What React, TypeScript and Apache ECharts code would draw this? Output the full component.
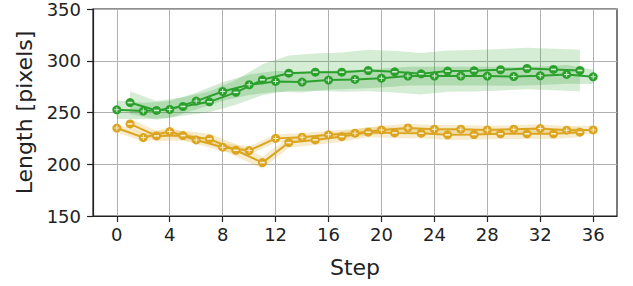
import React, { useEffect, useRef } from "react";
import * as echarts from "echarts";

const evenSteps = [0, 2, 4, 6, 8, 10, 12, 14, 16, 18, 20, 22, 24, 26, 28, 30, 32, 34, 36];
const oddSteps = [1, 3, 5, 7, 9, 11, 13, 15, 17, 19, 21, 23, 25, 27, 29, 31, 33, 35];

const greenEven = [252.6, 251.4, 253, 261, 270.3, 276.8, 280, 279.4, 281.3, 282, 283.2, 285.2, 285.2, 285.2, 285.2, 284.8, 285.5, 286.8, 284.5];
const greenEvenSpread = [9, 8, 8, 8, 9, 10, 10, 10, 9, 9, 9, 9, 9, 9, 9, 9, 9, 9, 7];
const greenOdd = [259.6, 252, 255.8, 260.3, 269.5, 281.6, 288, 289, 289, 290.6, 289.3, 287.4, 290, 290.3, 291.3, 292.5, 291.6, 290.6];
const greenOddSpread = [11, 9, 9, 10, 12, 15, 17, 18, 19, 20, 20, 20, 20, 20, 20, 20, 20, 20];

const orangeEven = [235, 225.8, 231.6, 223.5, 216.5, 213.2, 225, 226.1, 228.4, 230, 233.2, 235.1, 233.9, 233.9, 233.2, 233.9, 234.5, 232.9, 233.2];
const orangeEvenSpread = [4, 4, 4, 4, 4, 4, 4, 4, 4, 4, 4, 4, 4, 4, 4, 4, 4, 4, 4];
const orangeOdd = [239, 227.4, 227.7, 224.5, 213.5, 201.6, 220.9, 223.5, 226.7, 231, 230.3, 230, 228.4, 228.7, 229.4, 229.4, 229.4, 231];
const orangeOddSpread = [5, 5, 5, 5, 6, 6, 5, 5, 5, 5, 5, 5, 5, 5, 5, 5, 5, 5];

const xTicks = [0, 4, 8, 12, 16, 20, 24, 28, 32, 36];

const GREEN = "#2ca02c";
const ORANGE = "#dba520";
const FONT = "DejaVu Sans";
const PLUS = "path://M4,0H6V4H10V6H6V10H4V6H0V4H4Z";
const MINUS = "path://M0,0H10V2H0Z";

function bandSeries(xs: number[], center: number[], spread: number[], fill: string) {
  const data = xs.map((x, i) => [x, center[i] - spread[i], center[i] + spread[i]]);
  return {
    type: "custom",
    data,
    silent: true,
    z: 1,
    encode: { x: 0, y: [1, 2] },
    renderItem: (params: any, api: any) => {
      if (params.dataIndex !== 0) return null;
      const upper = data.map((d) => api.coord([d[0], d[2]]));
      const lower = data.map((d) => api.coord([d[0], d[1]])).reverse();
      return {
        type: "polygon",
        shape: { points: upper.concat(lower) },
        style: { fill },
      };
    },
  };
}

function lineSeries(xs: number[], vals: number[], color: string) {
  return {
    type: "line",
    data: xs.map((x, i) => [x, vals[i]]),
    symbol: "circle",
    symbolSize: 9,
    showAllSymbol: true,
    lineStyle: { color, width: 2 },
    itemStyle: { color, borderWidth: 0 },
    z: 3,
  };
}

function glyphSeries(xs: number[], vals: number[], symbol: string, size: number[]) {
  return {
    type: "scatter",
    data: xs.map((x, i) => [x, vals[i]]),
    symbol,
    symbolSize: size,
    itemStyle: { color: "#ffffff" },
    silent: true,
    z: 4,
  };
}

export default function App() {
  const ref = useRef<HTMLDivElement>(null);
  useEffect(() => {
    const chart = echarts.init(ref.current!, null, { renderer: "svg" });
    chart.setOption({
      animation: false,
      grid: {
        left: 93,
        right: 16,
        top: 9,
        bottom: 70,
        show: true,
        borderColor: "#222",
        borderWidth: 1.2,
      },
      xAxis: {
        type: "value",
        min: -1.8,
        max: 37.8,
        name: "Step",
        nameLocation: "middle",
        nameGap: 40,
        nameTextStyle: { fontFamily: FONT, fontSize: 22, color: "#222" },
        axisLine: { show: true, onZero: false, lineStyle: { color: "#222", width: 1.2 } },
        axisTick: { show: true, length: 6, customValues: xTicks, lineStyle: { color: "#222", width: 1.2 } },
        axisLabel: { customValues: xTicks, fontFamily: FONT, fontSize: 18, color: "#222", margin: 9 },
        splitLine: { show: true, lineStyle: { color: "#b0b0b0", width: 1 } },
      },
      yAxis: {
        type: "value",
        min: 150,
        max: 350,
        interval: 50,
        name: "Length [pixels]",
        nameLocation: "middle",
        nameGap: 57,
        nameTextStyle: { fontFamily: FONT, fontSize: 22, color: "#222" },
        axisLine: { show: true, onZero: false, lineStyle: { color: "#222", width: 1.2 } },
        axisTick: { show: true, length: 6, lineStyle: { color: "#222", width: 1.2 } },
        axisLabel: { fontFamily: FONT, fontSize: 18, color: "#222", margin: 12 },
        splitLine: { show: true, lineStyle: { color: "#b0b0b0", width: 1 } },
      },
      series: [
        bandSeries(oddSteps, greenOdd, greenOddSpread, "rgba(44,160,44,0.2)"),
        bandSeries(evenSteps, greenEven, greenEvenSpread, "rgba(44,160,44,0.22)"),
        bandSeries(oddSteps, orangeOdd, orangeOddSpread, "rgba(219,165,32,0.22)"),
        bandSeries(evenSteps, orangeEven, orangeEvenSpread, "rgba(219,165,32,0.22)"),
        lineSeries(oddSteps, greenOdd, GREEN),
        lineSeries(evenSteps, greenEven, GREEN),
        lineSeries(oddSteps, orangeOdd, ORANGE),
        lineSeries(evenSteps, orangeEven, ORANGE),
        glyphSeries(oddSteps, greenOdd, MINUS, [5, 1.6]),
        glyphSeries(evenSteps, greenEven, PLUS, [5, 5]),
        glyphSeries(oddSteps, orangeOdd, MINUS, [5, 1.6]),
        glyphSeries(evenSteps, orangeEven, PLUS, [5, 5]),
      ],
    });
    return () => chart.dispose();
  }, []);
  return <div ref={ref} style={{ position: "absolute", left: 0, top: 0, width: 633, height: 286 }} />;
}
